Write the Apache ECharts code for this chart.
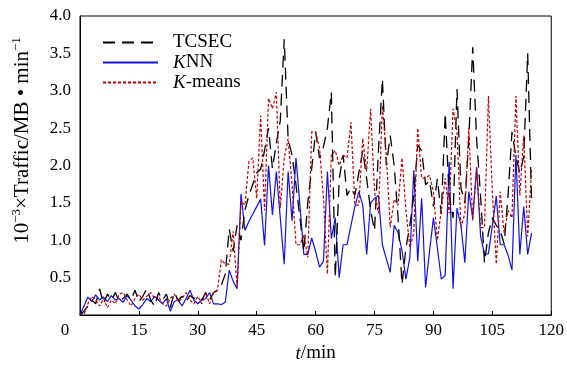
<!DOCTYPE html>
<html>
<head>
<meta charset="utf-8">
<script src="https://cdn.jsdelivr.net/npm/echarts@6/dist/echarts.min.js"></script>
<style>
  html, body { margin: 0; padding: 0; background: #fff; }
  #main { width: 567px; height: 368px; }
</style>
</head>
<body>
<div id="main"></div>
<script>
// traffic per minute, t = 0..115
let tcsec = [
  0, 0.05, 0.12, 0.2, 0.15, 0.35, 0.15, 0.28, 0.2, 0.3,
  0.18, 0.22, 0.28, 0.2, 0.33, 0.18, 0.25, 0.35, 0.2, 0.12,
  0.3, 0.2, 0.28, 0.1, 0.3, 0.2, 0.25, 0.18, 0.26, 0.22,
  0.25, 0.2, 0.3, 0.2, 0.3, 0.33, 0.4, 0.55, 1.15, 0.85,
  1.2, 1.0, 1.4, 1.6, 1.75, 1.9, 1.95, 2.2, 2.5, 1.96,
  2.3, 2.6, 3.69, 2.35, 2.14, 1.74, 1.3, 0.85, 1.5, 1.96,
  2.45, 2.1, 2.25, 2.5, 2.98, 0.5, 1.82, 2.14, 1.6, 1.7,
  1.6, 1.9, 2.2, 1.82, 1.4, 1.13, 2.2, 3.16, 2.0, 2.4,
  2.0, 1.3, 0.41, 0.9, 1.2, 1.6, 2.27, 2.2, 1.74, 1.8,
  1.45, 1.82, 1.35, 2.7, 1.6, 1.3, 3.02, 1.7, 1.5, 2.35,
  3.58, 2.35, 1.6, 0.7, 1.1, 1.3, 1.2, 1.13, 0.95, 1.6,
  2.45, 2.12, 1.9, 2.12, 3.5, 1.5
];
let knn = [
  0, 0.12, 0.24, 0.18, 0.27, 0.2, 0.24, 0.18, 0.26, 0.2,
  0.22, 0.17, 0.26, 0.2, 0.12, 0.08, 0.14, 0.22, 0.18, 0.25,
  0.2, 0.15, 0.22, 0.05, 0.18, 0.2, 0.12, 0.22, 0.33, 0.2,
  0.15, 0.2, 0.22, 0.3, 0.15, 0.15, 0.14, 0.17, 0.6, 0.45,
  0.35, 1.62, 1.13, 1.25, 1.35, 1.45, 1.55, 0.93, 2.0, 1.34,
  1.92, 1.3, 0.68, 1.92, 1.26, 2.1, 1.47, 0.81, 0.81, 1.03,
  0.85, 0.64, 0.72, 1.92, 1.02, 1.3, 0.5, 0.94, 0.94, 1.2,
  1.45, 1.65, 1.47, 0.81, 1.5, 1.56, 1.6, 0.94, 0.75, 0.57,
  1.2, 1.1, 0.86, 0.48, 0.77, 1.94, 0.72, 1.56, 0.37, 0.85,
  1.3, 0.9, 0.48, 0.53, 2.05, 0.35, 1.43, 1.2, 0.7, 1.65,
  1.3, 1.98, 1.06, 0.81, 0.82, 1.2, 1.59, 0.94, 0.94, 0.8,
  0.6, 2.14, 0.81, 1.45, 0.81, 1.1
];
let kmeans = [
  0, 0, 0.15, 0.25, 0.2, 0.12, 0.22, 0.1, 0.2, 0.15,
  0.28, 0.3, 0.2, 0.12, 0.22, 0.28, 0.2, 0.25, 0.3, 0.22,
  0.25, 0.15, 0.12, 0.22, 0.28, 0.18, 0.22, 0.3, 0.2, 0.15,
  0.25, 0.15, 0.3, 0.15, 0.3, 0.33, 0.74, 0.68, 0.68, 1.12,
  0.37, 1.52, 1.47, 2.05, 2.1, 1.56, 2.67, 1.4, 2.9, 2.76,
  2.98, 1.43, 2.1, 2.36, 1.74, 0.94, 0.94, 1.07, 0.77, 2.45,
  2.45, 2.23, 1.56, 0.55, 2.14, 2.2, 2.0, 2.14, 2.1, 2.58,
  1.47, 1.47, 2.36, 1.92, 2.76, 1.65, 1.36, 2.8, 2.14, 1.17,
  1.55, 1.47, 2.1, 1.4, 0.9, 1.1, 2.5, 1.83, 1.83, 1.87,
  1.65, 1.0, 1.4, 1.83, 1.36, 2.76, 2.45, 1.17, 1.36, 2.5,
  1.26, 1.96, 1.17, 1.17, 2.93, 1.65, 0.68, 1.65, 1.1, 1.4,
  1.3, 2.93, 1.6, 2.4, 1.05, 1.96
];
let minutes = tcsec.map(function (v, i) { return i; });

function pairs(values) {
  return values.map(function (v, i) { return [minutes[i], v]; });
}

let font = 'Liberation Serif';
let chart = echarts.init(document.getElementById('main'));

let option = {
  animation: false,
  textStyle: { fontFamily: font, color: '#000' },
  grid: {
    left: 80, right: 15, top: 16, bottom: 50,
    show: true, borderColor: '#000', borderWidth: 1
  },
  legend: {
    orient: 'vertical',
    left: 97, top: 28,
    itemWidth: 55, itemHeight: 14, itemGap: 1,
    itemStyle: { opacity: 0 },
    textStyle: {
      fontFamily: font, fontSize: 19, color: '#000',
      padding: [0, 0, 0, 10],
      rich: { i: { fontFamily: font, fontSize: 19, fontStyle: 'italic' } }
    },
    formatter: function (name) {
      if (name === 'KNN') return '{i|K}NN';
      if (name === 'K-means') return '{i|K}-means';
      return name;
    },
    data: ['TCSEC', 'KNN', 'K-means']
  },
  xAxis: {
    type: 'value', min: 0, max: 120, interval: 15,
    name: '{i|t}/min', nameLocation: 'middle', nameGap: 29,
    nameTextStyle: {
      fontFamily: font, fontSize: 19, color: '#000',
      rich: { i: { fontFamily: font, fontSize: 19, fontStyle: 'italic' } }
    },
    axisLine: { lineStyle: { color: '#000', width: 1 } },
    axisTick: { inside: true, length: 4, lineStyle: { color: '#000' } },
    splitLine: { show: false },
    axisLabel: {
      fontFamily: font, fontSize: 17, color: '#000', margin: 7,
      formatter: function (v) { return v === 0 ? '{o|0}' : String(v); },
      rich: { o: { fontFamily: font, fontSize: 17, padding: [0, 30, 0, 0] } }
    }
  },
  yAxis: {
    type: 'value', min: 0, max: 4, interval: 0.5,
    name: '10{s|−3}×Traffic/MB • min{s|−1}',
    nameLocation: 'middle', nameGap: 46,
    nameTextStyle: {
      fontFamily: font, fontSize: 21, color: '#000',
      padding: [0, 0, 0, 50],
      rich: { s: { fontFamily: font, fontSize: 13, padding: [0, 0, 11, 0] } }
    },
    axisLine: { lineStyle: { color: '#000', width: 1 } },
    axisTick: { show: false },
    splitLine: { show: false },
    axisLabel: {
      fontFamily: font, fontSize: 17, color: '#000', margin: 9,
      formatter: function (v) { return v === 0 ? '' : v.toFixed(1); }
    }
  },
  series: [
    {
      name: 'TCSEC', type: 'line', data: pairs(tcsec),
      symbol: 'none', z: 3,
      lineStyle: { color: '#000', width: 1.3, type: [12, 7] },
      itemStyle: { color: '#000' }
    },
    {
      name: 'KNN', type: 'line', data: pairs(knn),
      symbol: 'none', z: 2,
      lineStyle: { color: '#1010ee', width: 1.2 },
      itemStyle: { color: '#1010ee' }
    },
    {
      name: 'K-means', type: 'line', data: pairs(kmeans),
      symbol: 'none', z: 4,
      lineStyle: { color: '#c00000', width: 1.2, type: [3, 2] },
      itemStyle: { color: '#c00000' }
    }
  ]
};

chart.setOption(option);
</script>
</body>
</html>
